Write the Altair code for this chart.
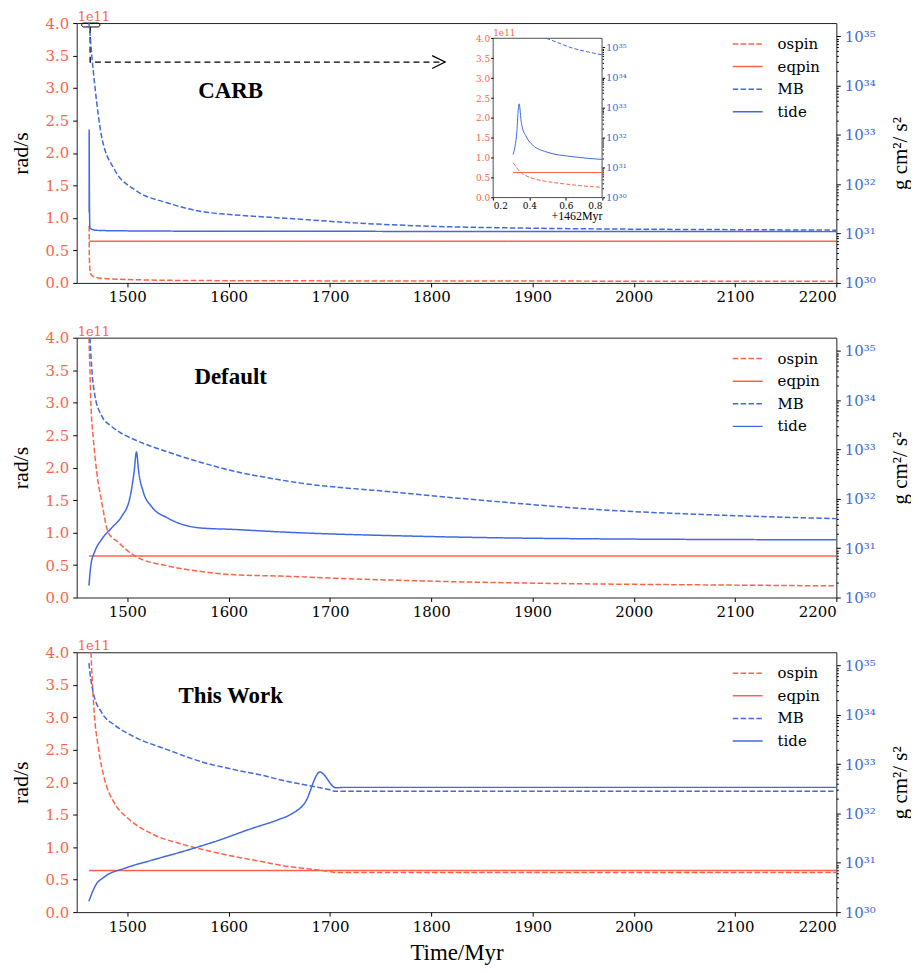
import altair as alt
import pandas as pd

SALMON = "#FF6347"
BLUE = "#4169E1"
TICK_FONT = "DejaVu Serif, Noto Serif, serif"
TITLE_FONT = "Liberation Serif"

W, H = 763, 261
X_DOMAIN = [1450, 2200]
X_TICKS = [1500, 1600, 1700, 1800, 1900, 2000, 2100, 2200]
LEFT_TICKS = [0.0, 0.5, 1.0, 1.5, 2.0, 2.5, 3.0, 3.5, 4.0]  # x 1e11 rad/s
RIGHT_TOP_EXP = 35.27
series_names = ["ospin", "eqpin", "MB", "tide"]

# ---------------- CARB ----------------
carb_ospin_t = [1462.31, 1462.35, 1462.42, 1462.6, 1462.8, 1463.1, 1464.0, 1466.4, 1474.6, 1507.0, 1573.0, 1700.0, 1900.0, 2200.0]
carb_ospin_v = [0.875, 0.64, 0.48, 0.34, 0.26, 0.20, 0.13, 0.10, 0.07, 0.05, 0.036, 0.031, 0.028, 0.026]
carb_eqpin_t = [1462.31, 2200.0]
carb_eqpin_v = [0.64, 0.64]
carb_mb_t = [1462.1, 1463.1, 1464.7, 1468.0, 1474.6, 1487.6, 1507.3, 1540.1, 1572.9, 1605.6, 1641.7, 1671.2, 1730.0, 1798.4, 1898.0, 1998.0, 2100.0, 2200.0]
carb_mb_exp = [35.27, 35.06, 34.66, 33.98, 32.97, 32.29, 31.89, 31.62, 31.45, 31.38, 31.33, 31.29, 31.21, 31.15, 31.11, 31.09, 31.08, 31.07]
carb_tide_t = [1462.31, 1462.34, 1462.5, 1462.8, 1463.1, 1468.0, 1480.0, 1550.0, 2200.0]
carb_tide_exp = [31.43, 33.10, 32.0, 31.27, 31.11, 31.07, 31.06, 31.05, 31.04]

# inset (+1462 Myr)
inset_ospin_t = [0.31, 0.33, 0.35, 0.38, 0.42, 0.5, 0.6, 0.7, 0.8]
inset_ospin_v = [0.875, 0.75, 0.64, 0.55, 0.48, 0.40, 0.34, 0.29, 0.26]
inset_eqpin_t = [0.31, 0.8]
inset_eqpin_v = [0.63, 0.63]
inset_mb_t = [0.493, 0.55, 0.639, 0.72, 0.8]
inset_mb_exp = [35.3, 35.17, 34.97, 34.85, 34.75]
inset_tide_t = [0.31, 0.328, 0.343, 0.356, 0.383, 0.419, 0.493, 0.639, 0.8]
inset_tide_exp = [31.43, 32.02, 33.12, 32.46, 32.02, 31.74, 31.52, 31.36, 31.27]

# annotation arrow of the CARB panel
arrow_t = [1463.3, 1463.3, 1813.7]
arrow_v = [3.94, 3.40, 3.40]
bracket_t = [1454.9, 1472.9]
bracket_v = [4.0, 3.94]

# ---------------- Default ----------------
def_ospin_t = [1462.1, 1463.1, 1464.1, 1466.4, 1469.7, 1474.6, 1481.2, 1491.0, 1507.3, 1540.1, 1572.9, 1605.6, 1651.5, 1700.0, 1792.0, 1932.4, 2072.8, 2200.0]
def_ospin_v = [4.0, 3.47, 2.96, 2.45, 1.94, 1.48, 1.0, 0.85, 0.64, 0.485, 0.40, 0.35, 0.33, 0.30, 0.255, 0.214, 0.194, 0.179]
def_eqpin_t = [1462.1, 2200.0]
def_eqpin_v = [0.64, 0.64]
def_mb_t = [1463.1, 1464.7, 1468.0, 1474.6, 1484.4, 1494.2, 1507.3, 1540.1, 1572.9, 1605.6, 1638.4, 1671.2, 1756.8, 1862.2, 1967.5, 2072.8, 2200.0]
def_mb_exp = [35.27, 34.70, 34.09, 33.69, 33.47, 33.33, 33.20, 32.95, 32.74, 32.56, 32.43, 32.32, 32.15, 31.95, 31.78, 31.68, 31.60]
def_tide_t = [1462.1, 1464.1, 1468.0, 1474.6, 1484.4, 1494.2, 1502.4, 1506.7, 1509.0, 1511.2, 1515.6, 1523.7, 1540.1, 1572.9, 1605.6, 1651.5, 1792.0, 1932.4, 2200.0]
def_tide_exp = [30.24, 30.67, 30.94, 31.18, 31.41, 31.64, 32.01, 32.55, 32.95, 32.55, 32.15, 31.85, 31.61, 31.41, 31.38, 31.33, 31.24, 31.195, 31.17]

# ---------------- This Work ----------------
tw_ospin_t = [1464.1, 1465.4, 1467.4, 1471.3, 1477.8, 1487.6, 1500.8, 1523.7, 1556.5, 1589.3, 1638.4, 1651.5, 1671.2, 1698.9, 1706.0, 2200.0]
tw_ospin_v = [4.0, 3.56, 3.05, 2.54, 2.03, 1.67, 1.44, 1.21, 1.035, 0.91, 0.76, 0.72, 0.68, 0.627, 0.61, 0.61]
tw_eqpin_t = [1462.1, 2200.0]
tw_eqpin_v = [0.64, 0.64]
tw_mb_t = [1462.1, 1463.1, 1466.4, 1474.6, 1487.6, 1507.3, 1540.1, 1572.9, 1605.6, 1638.4, 1651.5, 1671.2, 1700.0, 1706.0, 2200.0]
tw_mb_exp = [35.05, 34.85, 34.45, 34.05, 33.79, 33.55, 33.29, 33.05, 32.89, 32.75, 32.68, 32.60, 32.48, 32.45, 32.45]
tw_tide_t = [1462.1, 1468.0, 1477.8, 1497.5, 1523.7, 1556.5, 1589.3, 1622.0, 1648.3, 1662.0, 1675.4, 1690.1, 1706.0, 1713.0, 2200.0]
tw_tide_exp = [30.22, 30.52, 30.72, 30.89, 31.05, 31.24, 31.45, 31.69, 31.87, 31.99, 32.22, 32.84, 32.52, 32.53, 32.53]

panel_labels = ["CARB", "Default", "This Work"]
panel_label_t = [1602.0, 1602.0, 1602.0]
panel_label_v = [2.95, 3.40, 3.33]

# ---------------- helpers ----------------
def left_rows(name, ts, vals):
    return [{"t": t, "v": v * 1e11, "series": name} for t, v in zip(ts, vals)]


def right_rows(name, ts, exps):
    return [{"t": t, "v": 10.0 ** e, "series": name} for t, e in zip(ts, exps)]


def log_tick_values(top_exp):
    out = []
    for k in range(30, 36):
        for m in range(1, 10):
            val = m * 10.0 ** k
            if val <= 10.0 ** top_exp:
                out.append(val)
    return out


E = "round(log(datum.value)/LN10)"
DEC = f"abs(log(datum.value)/LN10 - {E}) < 0.001"
SUP = "'⁰¹²³⁴⁵⁶⁷⁸⁹'"
LOG_LABEL = (f"{DEC} ? '10' + substring({SUP}, floor({E}/10), floor({E}/10)+1)"
             f" + substring({SUP}, {E}%10, {E}%10+1) : ''")

color_scale = alt.Scale(domain=series_names, range=[SALMON, SALMON, BLUE, BLUE])
dash_scale = alt.Scale(domain=series_names, range=[[5.5, 2.4], [1, 0], [5.5, 2.4], [1, 0]])

legend = alt.Legend(title=None, orient="none", legendX=663, legendY=10, padding=0,
                    symbolType="M-1.5,0L1.5,0", symbolSize=400, symbolStrokeWidth=1.5,
                    labelFont=TICK_FONT, labelFontSize=15, labelColor="black",
                    labelOffset=19, rowPadding=3.7, labelLimit=200)


def x_enc(show_title):
    ax = alt.Axis(orient="bottom", values=X_TICKS, format="d",
                  title="Time/Myr" if show_title else None,
                  labelFont=TICK_FONT, labelFontSize=15, labelColor="black",
                  tickColor="black", tickSize=4, labelPadding=3, domain=False, grid=False,
                  titleFont=TITLE_FONT, titleFontSize=23, titleFontWeight="normal",
                  titleColor="black", titlePadding=8)
    return alt.X("t:Q", scale=alt.Scale(domain=X_DOMAIN, nice=False, zero=False), axis=ax)


def y_left_enc():
    ax = alt.Axis(orient="left", values=[v * 1e11 for v in LEFT_TICKS],
                  labelExpr="format(datum.value/1e11, '.1f')",
                  labelFont=TICK_FONT, labelFontSize=15, labelColor=SALMON,
                  tickColor="black", tickSize=4, labelPadding=4, domain=False, grid=False,
                  title="rad/s", titleFont=TITLE_FONT, titleFontSize=22,
                  titleFontWeight="normal", titleColor="black", titlePadding=13)
    return alt.Y("v:Q", scale=alt.Scale(domain=[0, 4e11], nice=False, zero=False), axis=ax)


def y_right_enc():
    ax = alt.Axis(orient="right", values=log_tick_values(RIGHT_TOP_EXP), labelExpr=LOG_LABEL,
                  labelOverlap=False,
                  labelFont=TICK_FONT, labelFontSize=15, labelColor=BLUE,
                  tickColor="black",
                  tickSize={"condition": {"test": DEC, "value": 4}, "value": 2},
                  labelPadding=4, domain=False, grid=False,
                  title="g cm²/ s²", titleFont=TITLE_FONT, titleFontSize=21,
                  titleFontWeight="normal", titleColor="black", titleAngle=270,
                  titleBaseline="top", titlePadding=14)
    return alt.Y("v:Q", scale=alt.Scale(type="log", domain=[1e30, 10 ** RIGHT_TOP_EXP], nice=False),
                 axis=ax)


def make_panel(lrows, rrows, label_idx, show_title, extra_left=(), inset=None):
    x = x_enc(show_title)
    yl = y_left_enc()
    yr = y_right_enc()
    left_lines = alt.Chart(pd.DataFrame(lrows)).mark_line(strokeWidth=1.5, interpolate="monotone").encode(
        x=x, y=yl,
        color=alt.Color("series:N", scale=color_scale, legend=legend),
        strokeDash=alt.StrokeDash("series:N", scale=dash_scale, legend=legend),
    )
    lab = alt.Chart(pd.DataFrame({
        "t": [panel_label_t[label_idx]], "v": [panel_label_v[label_idx] * 1e11],
        "label": [panel_labels[label_idx]]})).mark_text(
        font=TITLE_FONT, fontSize=23, fontWeight="bold", color="black",
        align="center", baseline="middle").encode(x=x, y=yl, text="label:N")
    offset_txt = alt.Chart(pd.DataFrame({"txt": ["1e11"]})).mark_text(
        font=TICK_FONT, fontSize=13, color=SALMON, align="left", baseline="alphabetic").encode(
        x=alt.value(1), y=alt.value(-2), text="txt:N")
    right_lines = alt.Chart(pd.DataFrame(rrows)).mark_line(strokeWidth=1.5, interpolate="monotone").encode(
        x=x, y=yr,
        color=alt.Color("series:N", scale=color_scale, legend=legend),
        strokeDash=alt.StrokeDash("series:N", scale=dash_scale, legend=legend),
    )
    left_group = alt.layer(left_lines, lab, offset_txt, *[f(x, yl) for f in extra_left])
    main = alt.layer(left_group, right_lines).resolve_scale(y="independent")
    if inset is not None:
        main = alt.layer(main, inset).resolve_scale(x="independent", y="independent")
    return main.properties(width=W, height=H)


# ---------- CARB extras ----------
def arrow_layer(x, yl):
    df = pd.DataFrame({"t": arrow_t, "v": [a * 1e11 for a in arrow_v], "o": [0, 1, 2]})
    return alt.Chart(df).mark_line(color="black", strokeWidth=1.3, strokeDash=[6, 4]).encode(
        x=x, y=yl, order="o:Q")


def head_layer(x, yl):
    df = pd.DataFrame({"t": [arrow_t[-1]], "v": [arrow_v[-1] * 1e11]})
    return alt.Chart(df).mark_point(shape="M-2,-1L0,0L-2,1", size=169, filled=False,
                                    color="black", strokeWidth=1.3, opacity=1).encode(x=x, y=yl)


def bracket_layer(x, yl):
    df = pd.DataFrame({"t": [bracket_t[0]], "t2": [bracket_t[1]],
                       "v": [bracket_v[0] * 1e11], "v2": [bracket_v[1] * 1e11]})
    return alt.Chart(df).mark_rect(fillOpacity=0, stroke="black", strokeWidth=1,
                                   cornerRadius=2).encode(x=x, x2="t2:Q", y=yl, y2="v2:Q")


# ---------- inset ----------
IX0, IX1 = 418.3, 527.7
IY_TOP, IY_BOT = 15.3, 175.3
INSET_TOP_EXP = 35.3

ix_axis = alt.Axis(orient="bottom", offset=-(H - IY_BOT), values=[0.2, 0.4, 0.6, 0.8], format=".1f",
                   labelFont=TICK_FONT, labelFontSize=9, labelColor="black", tickColor="black",
                   tickSize=2.5, labelPadding=1, domain=False, grid=False,
                   title="+1462Myr", titleFont=TITLE_FONT, titleFontSize=12,
                   titleFontWeight="normal", titleColor="black", titleAnchor="end",
                   titleAlign="right", titlePadding=1)
ix = alt.X("t:Q", scale=alt.Scale(domain=[0.2, 0.8], range=[IX0, IX1], nice=False, zero=False),
           axis=ix_axis)
iyl = alt.Y("v:Q", scale=alt.Scale(domain=[0, 4e11], range=[IY_BOT, IY_TOP], nice=False, zero=False),
            axis=alt.Axis(orient="left", offset=-IX0, values=[v * 1e11 for v in LEFT_TICKS],
                          labelExpr="format(datum.value/1e11, '.1f')", labelFont=TICK_FONT,
                          labelFontSize=9, labelColor=SALMON, tickColor="black", tickSize=2.5,
                          labelPadding=1, domain=False, grid=False, title=None))
iyr = alt.Y("v:Q", scale=alt.Scale(type="log", domain=[1e30, 10 ** INSET_TOP_EXP], nice=False,
                                   range=[IY_BOT, IY_TOP]),
            axis=alt.Axis(orient="right", offset=-(W - IX1), values=log_tick_values(INSET_TOP_EXP),
                          labelExpr=LOG_LABEL, labelOverlap=False, labelFont=TICK_FONT,
                          labelFontSize=10, labelColor=BLUE, tickColor="black",
                          tickSize={"condition": {"test": DEC, "value": 2.5}, "value": 1.5},
                          labelPadding=1, domain=False, grid=False, title=None))

inset_frame = alt.Chart(pd.DataFrame({"t": [0.2], "t2": [0.8], "v": [0.0], "v2": [4e11]})).mark_rect(
    fillOpacity=0, stroke="#222", strokeWidth=0.8).encode(x=ix, x2="t2:Q", y=iyl, y2="v2:Q")
inset_ospin = alt.Chart(pd.DataFrame(left_rows("ospin", inset_ospin_t, inset_ospin_v))).mark_line(
    color=SALMON, strokeWidth=1, strokeDash=[4, 2], interpolate="monotone").encode(x=ix, y=iyl)
inset_eqpin = alt.Chart(pd.DataFrame(left_rows("eqpin", inset_eqpin_t, inset_eqpin_v))).mark_line(
    color=SALMON, strokeWidth=1).encode(x=ix, y=iyl)
inset_off = alt.Chart(pd.DataFrame({"txt": ["1e11"]})).mark_text(
    font=TICK_FONT, fontSize=9, color=SALMON, align="left", baseline="alphabetic").encode(
    x=alt.value(IX0), y=alt.value(IY_TOP - 2), text="txt:N")
inset_mb = alt.Chart(pd.DataFrame(right_rows("MB", inset_mb_t, inset_mb_exp))).mark_line(
    color=BLUE, strokeWidth=1, strokeDash=[4, 2], interpolate="monotone").encode(x=ix, y=iyr)
inset_tide = alt.Chart(pd.DataFrame(right_rows("tide", inset_tide_t, inset_tide_exp))).mark_line(
    color=BLUE, strokeWidth=1, interpolate="monotone").encode(x=ix, y=iyr)

inset = alt.layer(
    alt.layer(inset_frame, inset_ospin, inset_eqpin, inset_off),
    alt.layer(inset_mb, inset_tide),
).resolve_scale(y="independent")

# ---------- panels ----------
p1 = make_panel(
    left_rows("ospin", carb_ospin_t, carb_ospin_v) + left_rows("eqpin", carb_eqpin_t, carb_eqpin_v),
    right_rows("MB", carb_mb_t, carb_mb_exp) + right_rows("tide", carb_tide_t, carb_tide_exp),
    0, False, extra_left=(bracket_layer, arrow_layer, head_layer), inset=inset)
p2 = make_panel(
    left_rows("ospin", def_ospin_t, def_ospin_v) + left_rows("eqpin", def_eqpin_t, def_eqpin_v),
    right_rows("MB", def_mb_t, def_mb_exp) + right_rows("tide", def_tide_t, def_tide_exp),
    1, False)
p3 = make_panel(
    left_rows("ospin", tw_ospin_t, tw_ospin_v) + left_rows("eqpin", tw_eqpin_t, tw_eqpin_v),
    right_rows("MB", tw_mb_t, tw_mb_exp) + right_rows("tide", tw_tide_t, tw_tide_exp),
    2, True)

chart = alt.vconcat(p1, p2, p3, spacing=55, bounds="flush").resolve_scale(
    color="independent", strokeDash="independent", x="independent", y="independent"
).properties(
    padding={"left": 0, "top": 0, "right": 0, "bottom": 0}
).configure(font=TICK_FONT).configure_view(stroke="#222", strokeWidth=1).configure_legend(
    labelFont=TICK_FONT, labelFontSize=15
)

chart.save("out.html", embed_options={"renderer": "svg", "actions": False})
